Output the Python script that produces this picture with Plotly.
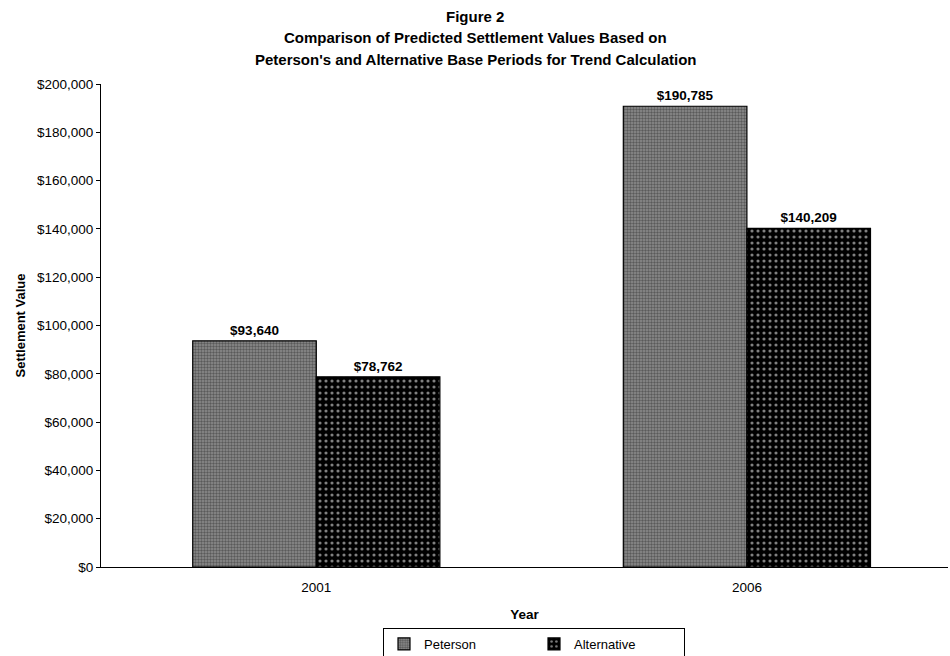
import plotly.graph_objects as go

years = ["2001", "2006"]
peterson = [93640, 190785]
alternative = [78762, 140209]
y_ticks = [0, 20000, 40000, 60000, 80000, 100000, 120000, 140000, 160000, 180000, 200000]

FONT = "Liberation Sans, Arial, sans-serif"

fig = go.Figure()
fig.add_trace(go.Bar(
    name="Peterson", x=years, y=peterson,
    marker=dict(color="#6e6e6e", line=dict(color="black", width=1.2),
                pattern=dict(shape=".", fgcolor="#262626", bgcolor="#8e8e8e",
                             size=3, solidity=0.5)),
    texttemplate="<b>$%{y:,}</b>", textposition="outside",
    textfont=dict(family=FONT, size=13.5, color="black"), cliponaxis=False,
))
fig.add_trace(go.Bar(
    name="Alternative", x=years, y=alternative,
    marker=dict(color="black", line=dict(color="black", width=1.2),
                pattern=dict(shape=".", fgcolor="white", bgcolor="black",
                             size=6, solidity=0.22)),
    texttemplate="<b>$%{y:,}</b>", textposition="outside",
    textfont=dict(family=FONT, size=13.5, color="black"), cliponaxis=False,
))

titles = ["Figure 2", "Comparison of Predicted Settlement Values Based on",
          "Peterson's and Alternative Base Periods for Trend Calculation"]
ypix = [17, 38, 59]
for t, p in zip(titles, ypix):
    fig.add_annotation(text="<b>%s</b>" % t, xref="paper", yref="paper",
                       x=(475 - 101) / 847, y=(567 - p) / 483, showarrow=False,
                       xanchor="center", yanchor="middle",
                       font=dict(family=FONT, size=15, color="black"))

fig.update_layout(
    width=950, height=656,
    margin=dict(l=101, r=2, t=84, b=89),
    paper_bgcolor="white", plot_bgcolor="white",
    barmode="group", bargap=0.426, bargroupgap=0,
    font=dict(family=FONT, size=13.5, color="black"),
    showlegend=True,
    legend=dict(orientation="h", xref="container", yref="container",
                x=534 / 950, y=1 - 628 / 656, xanchor="center", yanchor="top",
                bordercolor="black", borderwidth=1, bgcolor="white",
                font=dict(family=FONT, size=13, color="black"),
                entrywidth=105, itemwidth=30, traceorder="normal"),
    xaxis=dict(type="category", range=[-0.5, 1.467], showline=True,
               linecolor="black", linewidth=1, ticks="", showgrid=False,
               ticklabelstandoff=8,
               tickfont=dict(family=FONT, size=13.5, color="black"),
               title=dict(text="<b>Year</b>", standoff=15,
                          font=dict(family=FONT, size=13.5, color="black"))),
    yaxis=dict(range=[0, 200000], tickvals=y_ticks, tickformat="$,",
               showline=True, linecolor="black", linewidth=1,
               ticks="outside", ticklen=4, tickcolor="black",
               showgrid=False, zeroline=False,
               tickfont=dict(family=FONT, size=13.5, color="black"),
               title=dict(text="<b>Settlement Value</b>", standoff=8,
                          font=dict(family=FONT, size=13, color="black"))),
)

fig.write_html("out.html")
